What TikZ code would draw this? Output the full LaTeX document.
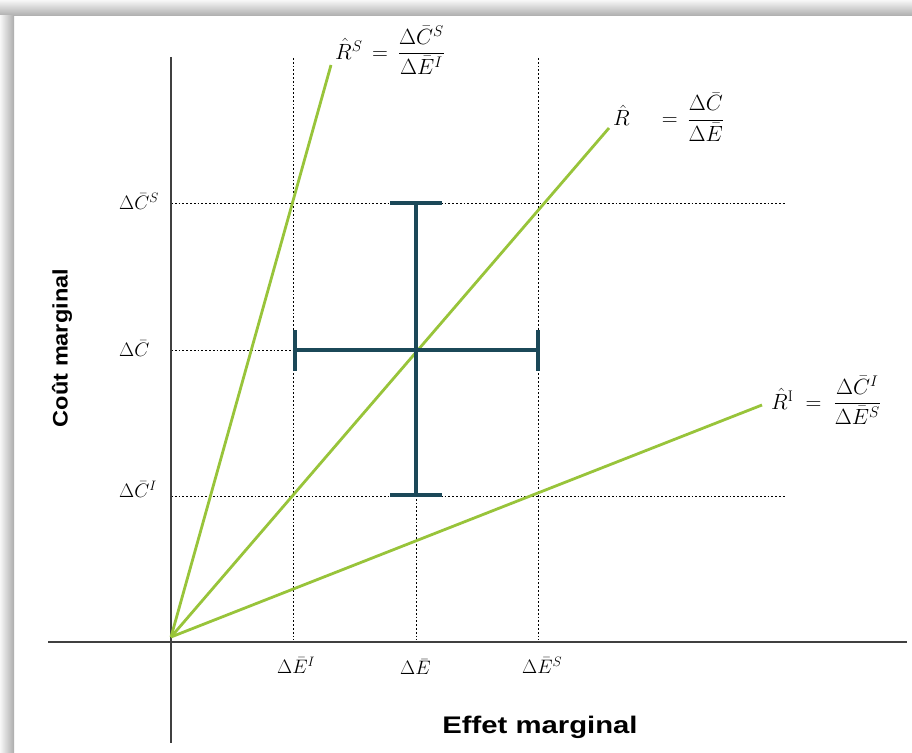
\RequirePackage{fix-cm}
\documentclass[tikz,border=0pt]{standalone}
\usepackage{amsmath}
\usepackage{fontspec}
\newfontfamily\axisfont{Liberation Sans}
\definecolor{ratio}{RGB}{152,196,58}
\definecolor{ebar}{RGB}{27,72,88}
\definecolor{axisgray}{RGB}{64,64,64}
\begin{document}
\begin{tikzpicture}[x=1pt,y=-1pt,
  axisline/.style={draw=axisgray,line width=2pt},
  guide/.style={draw=black,line width=1pt,dash pattern=on 1.8pt off 2pt},
  ratioline/.style={draw=ratio,line width=2.8pt},
  errbar/.style={draw=ebar,line width=4pt},
  valuelbl/.style={inner sep=0pt,font=\fontsize{19.5}{23}\selectfont},
  ratiolbl/.style={inner sep=0pt,font=\fontsize{22}{26}\selectfont},
  axistitle/.style={inner sep=0pt,font=\axisfont\bfseries}]
\useasboundingbox (0,0) rectangle (912,752);
\fill[white] (0,0) rectangle (912,752);
% frame shadow
\shade[top color=gray!6,bottom color=gray!65] (0,0) rectangle (912,16);
\shade[left color=gray!6,right color=gray!65] (0,16) rectangle (14,752);

% coordinates
\coordinate (O) at (171,637);
\coordinate (ytop) at (171,57);
\coordinate (ybot) at (171,743);
\coordinate (xleft) at (48,642);
\coordinate (xright) at (907,642);
\coordinate (eiTop) at (293,58);
\coordinate (eiBot) at (293,640);
\coordinate (esTop) at (538,58);
\coordinate (esBot) at (538,640);
\coordinate (emTop) at (416,495);
\coordinate (emBot) at (416,640);
\coordinate (csL) at (171,203);
\coordinate (csR) at (785,203);
\coordinate (cmL) at (171,350);
\coordinate (cmR) at (295,350);
\coordinate (ciL) at (171,496);
\coordinate (ciR) at (785,496);
\coordinate (rsEnd) at (331,65);
\coordinate (rEnd) at (609,128);
\coordinate (riEnd) at (762,405);
\coordinate (vTop) at (416,203);
\coordinate (vBot) at (416,495);
\coordinate (hL) at (295,350);
\coordinate (hR) at (538,350);

% guides
\draw[guide] (eiTop) -- (eiBot);
\draw[guide] (esTop) -- (esBot);
\draw[guide] (emTop) -- (emBot);
\draw[guide] (csL) -- (csR);
\draw[guide] (cmL) -- (cmR);
\draw[guide] (ciL) -- (ciR);

% axes
\draw[axisline] (ytop) -- (ybot);
\draw[axisline] (xleft) -- (xright);

% ratio lines
\draw[ratioline] (O) -- (rsEnd);
\draw[ratioline] (O) -- (rEnd);
\draw[ratioline] (O) -- (riEnd);

% error bars
\draw[errbar] (vTop) -- (vBot);
\draw[errbar] ([xshift=-26pt]vTop) -- ([xshift=26pt]vTop);
\draw[errbar] ([xshift=-26pt]vBot) -- ([xshift=26pt]vBot);
\draw[errbar] (hL) -- (hR);
\draw[errbar] ([yshift=20pt]hL) -- ([yshift=-21pt]hL);
\draw[errbar] ([yshift=20pt]hR) -- ([yshift=-21pt]hR);

% ratio labels
\node[ratiolbl,anchor=west] (lrs) at (335,50) {$\hat{R}^{S}\,=\,\dfrac{\Delta\bar{C}^{S}}{\Delta\bar{E}^{I}}$};
\node[ratiolbl,anchor=west] (lr) at (613,117) {$\hat{R}\hspace{26pt}=\,\dfrac{\Delta\bar{C}}{\Delta\bar{E}}$};
\node[ratiolbl,anchor=west] (lri) at (771,400) {$\hat{R}^{\mathrm{I}}\;=\;\dfrac{\Delta\bar{C}^{I}}{\Delta\bar{E}^{S}}$};

% axis value labels
\node[valuelbl,anchor=west] (lcs) at (119,201) {$\Delta\bar{C}^{S}$};
\node[valuelbl,anchor=west] (lcm) at (119,349) {$\Delta\bar{C}$};
\node[valuelbl,anchor=west] (lci) at (119,489) {$\Delta\bar{C}^{I}$};
\node[valuelbl,anchor=west] (lei) at (277,665) {$\Delta\bar{E}^{I}$};
\node[valuelbl,anchor=west] (lem) at (400,667) {$\Delta\bar{E}$};
\node[valuelbl,anchor=west] (les) at (522,665) {$\Delta\bar{E}^{S}$};

% axis titles
\node[axistitle] (tx) at (540,727) {\fontsize{24}{28}\selectfont\scalebox{1.22}[1]{Effet marginal}};
\node[axistitle,rotate=90] (ty) at (62,348) {\fontsize{21}{25}\selectfont\scalebox{1.12}[1]{Coût marginal}};
\end{tikzpicture}
\end{document}
